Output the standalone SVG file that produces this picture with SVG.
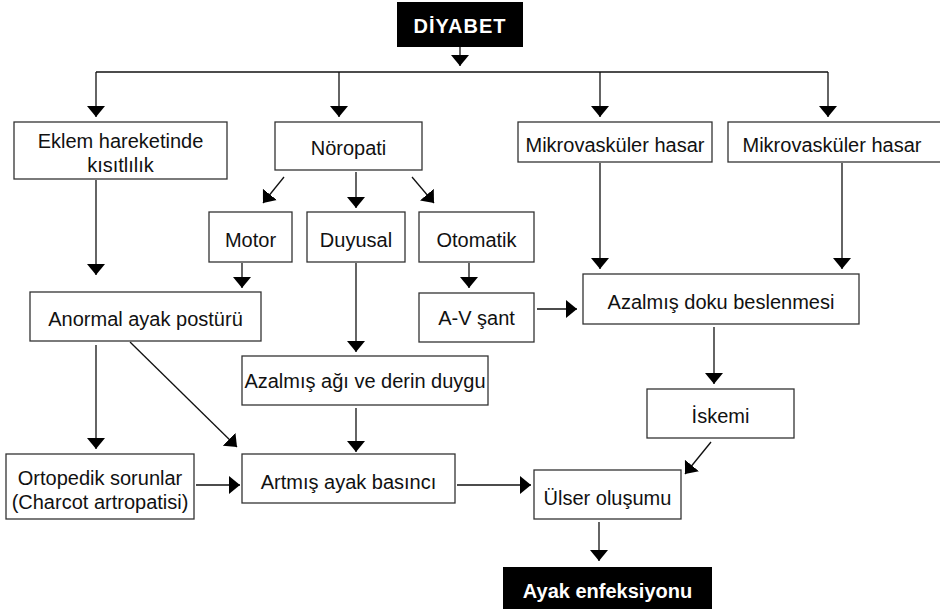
<svg xmlns="http://www.w3.org/2000/svg" width="940" height="609" viewBox="0 0 940 609">
<defs>
<marker id="ah" markerUnits="userSpaceOnUse" markerWidth="12" markerHeight="18" refX="11" refY="9" orient="auto">
<path d="M0,0 L11,9 L0,18 Z" fill="#000"/>
</marker>
<style>
.box{fill:#fff;stroke:#333;stroke-width:1.3}
.dark{fill:#000;stroke:none}
.t{font-family:"Liberation Sans",Arial,Helvetica,sans-serif;font-size:20px;fill:#111;text-anchor:middle}
.tb{font-family:"Liberation Sans",Arial,Helvetica,sans-serif;font-size:20px;font-weight:bold;fill:#fff;text-anchor:middle}
.c{fill:none;stroke:#111;stroke-width:1.3}
.a{fill:none;stroke:#111;stroke-width:1.3;marker-end:url(#ah)}
</style>
</defs>
<rect width="940" height="609" fill="#fff"/>
<g id="connectors">
<path class="a" d="M460,47 V66"/>
<path class="c" d="M96,72 H828"/>
<path class="a" d="M96,72 V117"/>
<path class="a" d="M339,72 V117"/>
<path class="a" d="M600,72 V117"/>
<path class="a" d="M828,72 V117"/>
<path class="a" d="M284,177 L263,203"/>
<path class="a" d="M356,172 V208"/>
<path class="a" d="M412,177 L434,203"/>
<path class="a" d="M96,180 V275"/>
<path class="a" d="M242,263 V288"/>
<path class="a" d="M469,263 V288"/>
<path class="a" d="M356,263 V352"/>
<path class="a" d="M600,163 V269"/>
<path class="a" d="M842,163 V269"/>
<path class="a" d="M537,309 H577"/>
<path class="a" d="M714,327 V384"/>
<path class="a" d="M96,345 V449"/>
<path class="a" d="M130,342 L237,447"/>
<path class="a" d="M356,408 V452"/>
<path class="a" d="M196,485 H240"/>
<path class="a" d="M457,485 H531"/>
<path class="a" d="M711,442 L685,474"/>
<path class="a" d="M599,522 V561"/>
</g>
<g id="diyabet"><rect class="dark" x="397" y="2" width="126" height="45"/><text class="tb" x="460" y="33" letter-spacing="1">DİYABET</text></g>
<g id="eklem"><rect class="box" x="14" y="122" width="213" height="57"/><text class="t" x="120.5" y="148">Eklem hareketinde</text><text class="t" x="120.5" y="172">kısıtlılık</text></g>
<g id="noropati"><rect class="box" x="275" y="122" width="147" height="48"/><text class="t" x="348.5" y="155">Nöropati</text></g>
<g id="mikro1"><rect class="box" x="518" y="122" width="194" height="40"/><text class="t" x="615" y="152">Mikrovasküler hasar</text></g>
<g id="mikro2"><rect class="box" x="728" y="122" width="215" height="40"/><text class="t" x="832" y="152">Mikrovasküler hasar</text></g>
<g id="motor"><rect class="box" x="209" y="212" width="83" height="50"/><text class="t" x="250.5" y="247">Motor</text></g>
<g id="duyusal"><rect class="box" x="307" y="212" width="98" height="50"/><text class="t" x="356" y="247">Duyusal</text></g>
<g id="otomatik"><rect class="box" x="419" y="212" width="115" height="50"/><text class="t" x="476.5" y="247">Otomatik</text></g>
<g id="anormal"><rect class="box" x="30" y="292" width="231" height="49"/><text class="t" x="145.5" y="326">Anormal ayak postürü</text></g>
<g id="avsant"><rect class="box" x="419" y="293" width="115" height="49"/><text class="t" x="476.5" y="325">A-V şant</text></g>
<g id="doku"><rect class="box" x="583" y="274" width="276" height="50"/><text class="t" x="721" y="309">Azalmış doku beslenmesi</text></g>
<g id="agri"><rect class="box" x="242" y="356" width="246" height="49"/><text class="t" x="365" y="388">Azalmış ağı ve derin duygu</text></g>
<g id="iskemi"><rect class="box" x="647" y="389" width="147" height="49"/><text class="t" x="720.5" y="423">İskemi</text></g>
<g id="ortopedik"><rect class="box" x="6" y="454" width="188" height="65"/><text class="t" x="100" y="485">Ortopedik sorunlar</text><text class="t" x="100" y="509">(Charcot artropatisi)</text></g>
<g id="artmis"><rect class="box" x="242" y="454" width="213" height="49"/><text class="t" x="348.5" y="489">Artmış ayak basıncı</text></g>
<g id="ulser"><rect class="box" x="534" y="470" width="147" height="49"/><text class="t" x="607.5" y="505">Ülser oluşumu</text></g>
<g id="enfeksiyon"><rect class="dark" x="503" y="567" width="209" height="42"/><text class="tb" x="607.5" y="598">Ayak enfeksiyonu</text></g>
</svg>
